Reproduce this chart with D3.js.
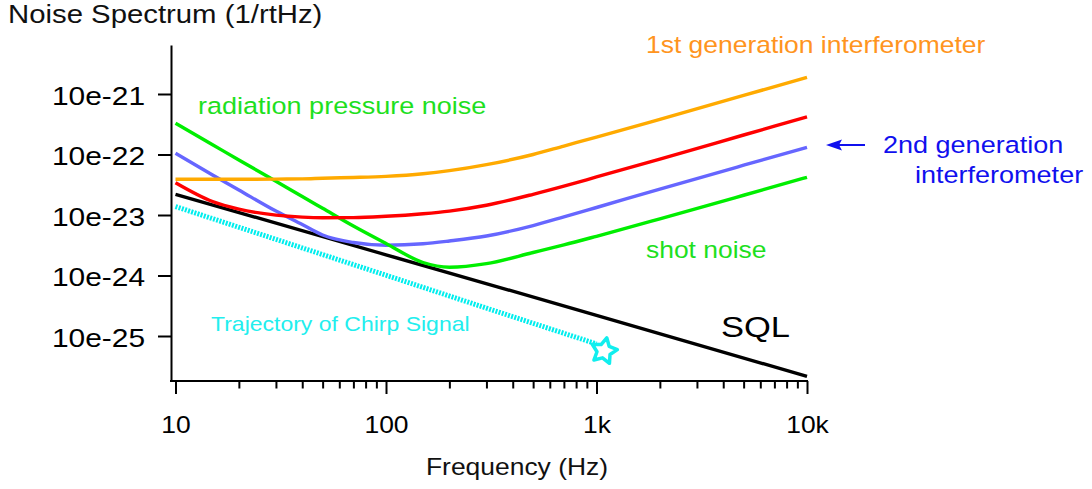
<!DOCTYPE html>
<html>
<head>
<meta charset="utf-8">
<script src="https://cdn.jsdelivr.net/npm/d3@7"></script>
<style>
  html, body { margin: 0; padding: 0; background: #fff; }
  svg { display: block; }
  text { font-family: "Liberation Sans", Arial, Helvetica, sans-serif; }
</style>
</head>
<body>
<svg id="chart" width="1092" height="489"></svg>
<script>
// Frequency grid (Hz) shared by the interferometer noise curves
const freqs = [10, 15, 20, 30, 40, 50, 70, 100, 150, 200, 300, 500, 700, 1000, 2000, 5000, 10000];

// Noise curves (1/rtHz) on the grid above
const firstGen   = [3.9e-23, 3.9e-23, 3.9e-23, 3.92e-23, 3.95e-23, 4.05e-23, 4.17e-23, 4.35e-23, 4.8e-23, 5.4e-23, 6.8e-23, 1.0e-22, 1.38e-22, 1.94e-22, 3.82e-22, 9.46e-22, 1.89e-21];
const midGen     = [3.42e-23, 1.67e-23, 1.25e-23, 9.96e-24, 9.23e-24, 9.02e-24, 9.05e-24, 9.52e-24, 1.05e-23, 1.16e-23, 1.45e-23, 2.2e-23, 3.0e-23, 4.25e-23, 8.4e-23, 2.1e-22, 4.2e-22];
const secondGen  = [1.047e-22, 4.58e-23, 2.59e-23, 1.16e-23, 6.97e-24, 4.67e-24, 3.51e-24, 3.16e-24, 3.34e-24, 3.72e-24, 4.5e-24, 6.7e-24, 9.3e-24, 1.33e-23, 2.68e-23, 6.65e-23, 1.315e-22];
const quantumSum = [3.28e-22, 1.45e-22, 8.11e-23, 3.61e-23, 2.02e-23, 1.29e-23, 6.56e-24, 3.38e-24, 1.64e-24, 1.37e-24, 1.57e-24, 2.4e-24, 3.2e-24, 4.45e-24, 8.65e-24, 2.12e-23, 4.2e-23];

// Standard quantum limit
const sqlFreqs  = [10, 100, 1000, 10000];
const sqlValues = [2.2e-23, 2.2e-24, 2.2e-25, 2.15e-26];

// Chirp signal trajectory and its end point
const chirpFreqs  = [10, 30, 100, 300, 1000];
const chirpValues = [1.38e-23, 3.96e-24, 1.01e-24, 2.89e-25, 7.4e-26];
const chirpEnd    = [1085, 5.65e-26];

// Axis ticks
const xMajorTicks  = [10, 100, 1000, 10000];
const xMajorLabels = ["10", "100", "1k", "10k"];
const yTicks  = [1e-21, 1e-22, 1e-23, 1e-24, 1e-25];
const yLabels = ["10e-21", "10e-22", "10e-23", "10e-24", "10e-25"];

const svg = d3.select("#chart");
const TEXT_STRETCH = 1.15;

// Scales
const x = d3.scaleLog().domain([10, 10000]).range([175.5, 807]);
const y = d3.scaleLog().domain([1e-25, 1e-21]).range([336, 94]);
const axisTop = 45, axisBottom = 381, axisLeft = 171;
y.domain([y.invert(axisBottom), y.invert(axisTop)]).range([axisBottom, axisTop]);

function label(txt, px, py, size, color, anchor) {
  return svg.append("text")
    .attr("transform", `translate(${px},${py}) scale(${TEXT_STRETCH},1)`)
    .attr("text-anchor", anchor || "start")
    .attr("font-size", size)
    .attr("fill", color)
    .text(txt);
}

// Y axis
const yAxis = svg.append("g")
  .attr("transform", `translate(${axisLeft},0)`)
  .call(d3.axisLeft(y).tickValues(yTicks).tickFormat((d, i) => yLabels[i]).tickSize(13).tickSizeOuter(0));
yAxis.select(".domain").attr("stroke", "#000").attr("stroke-width", 2);
yAxis.selectAll(".tick line").attr("stroke", "#000").attr("stroke-width", 2);
yAxis.selectAll(".tick text")
  .attr("x", 0).attr("dy", null).attr("y", 0)
  .attr("transform", `translate(-26,10) scale(${TEXT_STRETCH},1)`)
  .attr("font-size", 26).attr("fill", "#000")
  .attr("font-family", null);

// X axis: minor ticks
const minorTicks = [];
[10, 100, 1000].forEach(dec => { for (let k = 2; k <= 9; k++) minorTicks.push(dec * k); });
const xMinor = svg.append("g")
  .attr("transform", `translate(0,${axisBottom})`)
  .call(d3.axisBottom(x).tickValues(minorTicks).tickFormat("").tickSize(7.5).tickSizeOuter(0));
xMinor.select(".domain").remove();
xMinor.selectAll(".tick line").attr("stroke", "#000").attr("stroke-width", 2);

// X axis: major ticks and labels
const xMajor = svg.append("g")
  .attr("transform", `translate(0,${axisBottom})`)
  .call(d3.axisBottom(x).tickValues(xMajorTicks).tickFormat((d, i) => xMajorLabels[i]).tickSize(13).tickSizeOuter(0));
xMajor.select(".domain").remove();
xMajor.selectAll(".tick line").attr("stroke", "#000").attr("stroke-width", 2);
xMajor.selectAll(".tick text")
  .attr("y", 0).attr("dy", null)
  .attr("transform", `translate(0,52) scale(${TEXT_STRETCH},1)`)
  .attr("font-size", 23).attr("fill", "#000")
  .attr("font-family", null);

svg.append("line")
  .attr("x1", axisLeft - 1).attr("x2", x(10000) + 1)
  .attr("y1", axisBottom).attr("y2", axisBottom)
  .attr("stroke", "#000").attr("stroke-width", 2);

// Axis titles
label("Noise Spectrum (1/rtHz)", 8, 23, 25.5, "#111");
label("Frequency (Hz)", 517, 475, 23, "#111", "middle");

// Curves
const smooth = d3.line().x(d => x(d[0])).y(d => y(d[1])).curve(d3.curveMonotoneX);
const straight = d3.line().x(d => x(d[0])).y(d => y(d[1]));
const zip = (fs, vs) => fs.map((f, i) => [f, vs[i]]);

const plot = svg.append("g").attr("fill", "none").attr("stroke-linecap", "butt");

plot.append("path")
  .attr("d", straight(zip(chirpFreqs, chirpValues)))
  .attr("stroke", "#00eeee").attr("stroke-width", 5).attr("stroke-dasharray", "2,1.3");

plot.append("path")
  .attr("d", straight(zip(sqlFreqs, sqlValues)))
  .attr("stroke", "#000").attr("stroke-width", 3.4);

plot.append("path")
  .attr("d", smooth(zip(freqs, secondGen)))
  .attr("stroke", "#6666ff").attr("stroke-width", 3.4);

plot.append("path")
  .attr("d", smooth(zip(freqs, quantumSum)))
  .attr("stroke", "#00ee00").attr("stroke-width", 3.4);

plot.append("path")
  .attr("d", smooth(zip(freqs, midGen)))
  .attr("stroke", "#ff0000").attr("stroke-width", 3.4);

plot.append("path")
  .attr("d", smooth(zip(freqs, firstGen)))
  .attr("stroke", "#ffaa00").attr("stroke-width", 3.4);

// Star at the end of the chirp
const starPts = d3.range(10).map(i => {
  const r = i % 2 === 0 ? 13.5 : 7;
  return [i * Math.PI / 5, r];
});
svg.append("path")
  .attr("transform", `translate(${x(chirpEnd[0])},${y(chirpEnd[1])}) rotate(12)`)
  .attr("d", d3.lineRadial().curve(d3.curveLinearClosed)(starPts))
  .attr("fill", "#fff").attr("stroke", "#11eeee").attr("stroke-width", 3.5)
  .attr("stroke-linejoin", "round");

// Annotations
label("radiation pressure noise", 198, 114, 23.5, "#1ee01e");
label("1st generation interferometer", 646, 53, 23, "#ff9420");
label("shot noise", 646, 258, 23, "#1ee01e");
label("SQL", 721, 337, 30, "#000");
label("Trajectory of Chirp Signal", 211, 331, 20, "#22eeee");
label("2nd generation", 883, 153, 23.5, "#1010ee");
label("interferometer", 915, 183, 23.5, "#1010ee");

// Arrow pointing at the second generation curve
svg.append("line")
  .attr("x1", 838).attr("x2", 865).attr("y1", 145).attr("y2", 145)
  .attr("stroke", "#1010ee").attr("stroke-width", 2);
svg.append("path")
  .attr("d", "M826,145 L842,139.5 L839,145 L842,150.5 Z")
  .attr("fill", "#1010ee");
</script>
</body>
</html>
